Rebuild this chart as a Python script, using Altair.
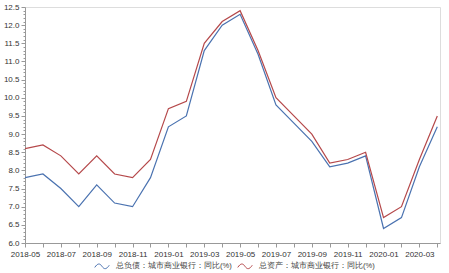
import altair as alt
import pandas as pd

months = ["2018-05","2018-06","2018-07","2018-08","2018-09","2018-10","2018-11","2018-12",
          "2019-01","2019-02","2019-03","2019-04","2019-05","2019-06","2019-07","2019-08",
          "2019-09","2019-10","2019-11","2019-12","2020-01","2020-02","2020-03","2020-04"]
liab = [7.8, 7.9, 7.5, 7.0, 7.6, 7.1, 7.0, 7.8, 9.2, 9.5, 11.3, 12.0, 12.3, 11.2, 9.8, 9.3,
        8.8, 8.1, 8.2, 8.4, 6.4, 6.7, 8.1, 9.2]
asset = [8.6, 8.7, 8.4, 7.9, 8.4, 7.9, 7.8, 8.3, 9.7, 9.9, 11.5, 12.1, 12.4, 11.3, 10.0, 9.5,
         9.0, 8.2, 8.3, 8.5, 6.7, 7.0, 8.3, 9.5]
s1 = "总负债：城市商业银行：同比(%)"
s2 = "总资产：城市商业银行：同比(%)"

rows = []
for i, m in enumerate(months):
    rows.append({"i": i, "month": m, "series": s1, "v": liab[i]})
    rows.append({"i": i, "month": m, "series": s2, "v": asset[i]})
df = pd.DataFrame(rows)

label_map = "{" + ",".join(f"'{i}':'{m}'" for i, m in enumerate(months) if i % 2 == 0) + "}"
yvals = [round(6.0 + 0.1 * k, 1) for k in range(66)]

font = "Liberation Sans"
wave = "M-1,0.15C-0.6,-0.45,-0.3,-0.45,0,0C0.3,0.45,0.6,0.45,1,-0.15"

chart = alt.Chart(df).mark_line(strokeWidth=1.2).encode(
    x=alt.X("i:Q", scale=alt.Scale(domain=[0, 23.15], nice=False, zero=False),
            axis=alt.Axis(values=list(range(24)), labelExpr=f"{label_map}[''+datum.value] || ''",
                          title=None, grid=False, domainColor="#999", tickColor="#999",
                          tickSize=4, labelColor="#333", labelFont=font, labelFontSize=8,
                          labelPadding=3, labelOverlap=False, labelFlush=False)),
    y=alt.Y("v:Q", scale=alt.Scale(domain=[6.0, 12.5], nice=False, zero=False),
            axis=alt.Axis(values=yvals,
                          labelExpr="round(datum.value*10) % 5 == 0 ? format(datum.value, '.1f') : ''",
                          title=None, grid=False, domainColor="#999", tickColor="#999",
                          tickSize={"condition": {"test": "round(datum.value*10) % 5 == 0", "value": 4}, "value": 2},
                          labelColor="#333", labelFont=font, labelFontSize=8, labelPadding=2,
                          labelOverlap=False, labelFlush=False)),
    color=alt.Color("series:N", scale=alt.Scale(domain=[s1, s2], range=["#4a72b0", "#b5484a"]),
                    legend=alt.Legend(title=None, orient="none", legendX=69, legendY=251,
                                      direction="horizontal", symbolType=wave, symbolSize=210,
                                      symbolStrokeWidth=1, labelFont=font, labelFontSize=7.6,
                                      labelColor="#444", columnPadding=3, labelOffset=6,
                                      labelLimit=300)),
).properties(width=415, height=236, autosize=alt.AutoSizeParams(type="none"),
             padding={"left": 25, "top": 7, "right": 9, "bottom": 30}
).configure_view(stroke=None).configure(background="white")

chart.save("out.html", embed_options={"renderer": "svg", "actions": False})
